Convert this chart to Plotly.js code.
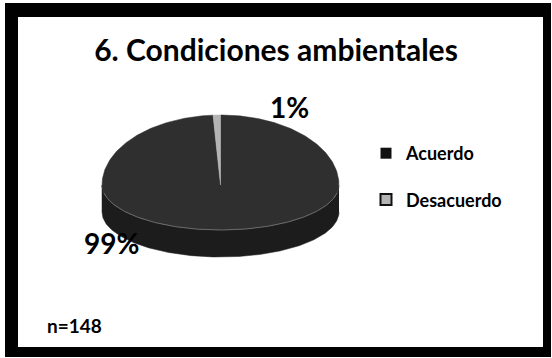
<!DOCTYPE html>
<html>
<head>
<meta charset="utf-8">
<script src="https://cdn.plot.ly/plotly-3.0.1.min.js"></script>
<style>
  html, body { margin: 0; padding: 0; background: #ffffff; }
  #chart { width: 552px; height: 358px; }
</style>
</head>
<body>
<div id="chart"></div>
<script>
// ---- Data ----
const categories = ['Acuerdo', 'Desacuerdo'];
const values = [99, 1];
const sampleSize = 148;
const chartTitle = '6. Condiciones ambientales';

// ---- Style ----
const sliceColors = ['#2f2f2f', '#b4b4b4'];
const sideColor = '#1c1c1c';
const FONT = 'Lato, "Open Sans", sans-serif';

// 3D pie geometry (pixel space of the page)
const cx = 220.5, cy = 185, rx = 118.5, ryTop = 70, ryBot = 45, depth = 27;

function pt(deg, dy) {
  const t = deg * Math.PI / 180;
  const c = Math.cos(t);
  return [cx + rx * Math.sin(t), cy - (c > 0 ? ryTop : ryBot) * c + (dy || 0)];
}

const total = values.reduce((a, b) => a + b, 0);
const traces = [];

// side wall (front half of the disc)
(function () {
  const xs = [], ys = [];
  for (let d = 90; d <= 270; d += 1) { const p = pt(d); xs.push(p[0]); ys.push(p[1]); }
  for (let d = 270; d >= 90; d -= 1) { const p = pt(d, depth); xs.push(p[0]); ys.push(p[1]); }
  traces.push({
    type: 'scatter', mode: 'lines', x: xs, y: ys, fill: 'toself',
    fillcolor: sideColor, line: { color: sideColor, width: 0.5 },
    hoverinfo: 'skip', showlegend: false
  });
})();

// top face slices
let start = 0;
values.forEach((v, i) => {
  const span = v / total * 360;
  const xs = [cx], ys = [cy];
  const steps = Math.max(2, Math.ceil(span));
  for (let k = 0; k <= steps; k++) {
    const p = pt(start + span * k / steps);
    xs.push(p[0]); ys.push(p[1]);
  }
  xs.push(cx); ys.push(cy);
  traces.push({
    type: 'scatter', mode: 'lines', x: xs, y: ys, fill: 'toself',
    fillcolor: sliceColors[i], line: { color: sliceColors[i], width: 0.5 },
    name: categories[i], hoverinfo: 'name', showlegend: false
  });
  start += span;
});

// highlight along the front rim
(function () {
  const xs = [], ys = [];
  for (let d = 100; d <= 260; d += 1) { const p = pt(d); xs.push(p[0]); ys.push(p[1]); }
  traces.push({
    type: 'scatter', mode: 'lines', x: xs, y: ys,
    line: { color: '#6a6a6a', width: 1 }, hoverinfo: 'skip', showlegend: false
  });
})();

// legend entries
categories.forEach((c, i) => {
  traces.push({
    type: 'scatter', mode: 'markers', x: [null], y: [null], name: c,
    marker: { symbol: 'square', size: 11, color: i === 0 ? '#111111' : sliceColors[i],
              line: { color: '#111111', width: i === 0 ? 0 : 2 } },
    legendgroup: c, showlegend: true
  });
});

const pct = values.map(v => Math.round(v / total * 100) + '%');

const layout = {
  width: 552, height: 358,
  margin: { l: 0, r: 0, t: 0, b: 0 },
  paper_bgcolor: '#ffffff', plot_bgcolor: 'rgba(0,0,0,0)',
  xaxis: { range: [0, 552], visible: false, fixedrange: true },
  yaxis: { range: [358, 0], visible: false, fixedrange: true },
  showlegend: true,
  legend: {
    x: 366 / 552, xanchor: 'left', y: 1 - 135 / 358, yanchor: 'top',
    font: { family: FONT, size: 18, color: '#000000', weight: 'bold' },
    bgcolor: 'rgba(0,0,0,0)', tracegroupgap: 20, traceorder: 'grouped',
    itemwidth: 30
  },
  title: {
    text: '<b>' + chartTitle + '</b>',
    font: { family: FONT, size: 30, color: '#000000' },
    x: 0.5, xanchor: 'center', y: 1 - 50 / 358, yanchor: 'middle'
  },
  shapes: [
    { type: 'rect', xref: 'x', yref: 'y', x0: 5, x1: 551, y0: 3, y1: 357,
      fillcolor: '#000000', line: { width: 0 }, layer: 'below' },
    { type: 'rect', xref: 'x', yref: 'y', x0: 18, x1: 543, y0: 17, y1: 347,
      fillcolor: '#ffffff', line: { width: 0 }, layer: 'below' }
  ],
  annotations: [
    { text: '<b>' + pct[1] + '</b>', x: 289, y: 107, xref: 'x', yref: 'y', showarrow: false,
      font: { family: FONT, size: 28, color: '#000000' } },
    { text: '<b>' + pct[0] + '</b>', x: 111, y: 243, xref: 'x', yref: 'y', showarrow: false,
      font: { family: FONT, size: 28, color: '#000000' } },
    { text: '<b>n=' + sampleSize + '</b>', x: 45, y: 325, xref: 'x', yref: 'y', xanchor: 'left',
      showarrow: false, font: { family: FONT, size: 19, color: '#000000' } }
  ]
};

Plotly.newPlot('chart', traces, layout, { displayModeBar: false, staticPlot: true });
</script>
</body>
</html>
